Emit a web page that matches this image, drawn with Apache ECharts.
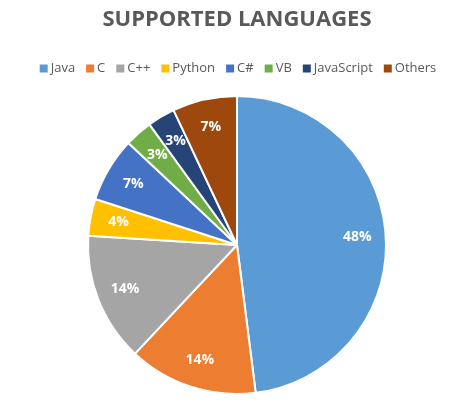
<!DOCTYPE html>
<html><head><meta charset="utf-8">
<script src="https://cdn.jsdelivr.net/npm/echarts@6/dist/echarts.min.js"></script>
<style>html,body{margin:0;background:#fff}#c{width:474px;height:402px}</style>
</head><body><div id="c"></div>
<script>
const languages = ["Java", "C", "C++", "Python", "C#", "VB", "JavaScript", "Others"];
const shares = [48, 14, 14, 4, 7, 3, 3, 7];
const colors = ["#5B9BD5", "#ED7D31", "#A5A5A5", "#FFC000", "#4472C4", "#70AD47", "#264478", "#9E480E"];

const pieData = languages.map((n, i) => ({ name: n, value: shares[i] }));

const chart = echarts.init(document.getElementById("c"));
chart.setOption({
  animation: false,
  color: colors,
  title: {
    text: "SUPPORTED LANGUAGES", left: "center", top: 4,
    textStyle: { fontFamily: "Open Sans", fontWeight: "bold", fontSize: 22, color: "#595959" }
  },
  legend: {
    top: 57, left: "center", itemWidth: 10, itemHeight: 10, itemGap: 9,
    icon: "rect",
    textStyle: { fontFamily: "Open Sans", fontSize: 13, color: "#595959", padding: [0, 0, 0, -3] },
    data: languages
  },
  series: [{
    type: "pie", center: [237, 245], radius: 149, startAngle: 90,
    itemStyle: { borderColor: "#fff", borderWidth: 2 },
    label: { show: false },
    labelLine: { show: false },
    data: pieData
  }, {
    // transparent ring, only used to place the percentage labels further out
    type: "pie", center: [237, 245], radius: [86, 149], startAngle: 90,
    silent: true, legendHoverLink: false,
    itemStyle: { color: "transparent" },
    label: {
      position: "inside", formatter: "{d}%", color: "#fff",
      fontFamily: "Open Sans", fontWeight: "bold", fontSize: 14
    },
    labelLayout: { hideOverlap: false },
    labelLine: { show: false },
    data: pieData
  }]
});
</script></body></html>
